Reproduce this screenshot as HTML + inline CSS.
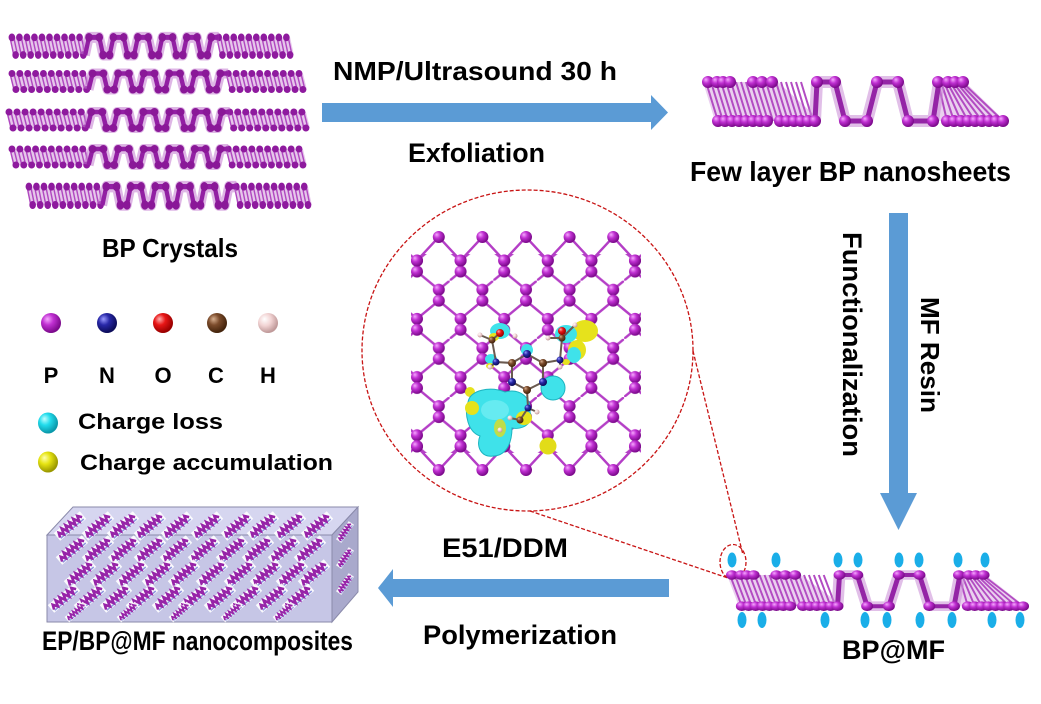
<!DOCTYPE html>
<html><head><meta charset="utf-8">
<style>
html,body{margin:0;padding:0;background:#fff;width:1041px;height:704px;overflow:hidden;}
svg{display:block;}
text{font-family:"Liberation Sans",Arial,sans-serif;font-weight:bold;fill:#000;}
</style></head><body>
<svg width="1041" height="704" viewBox="0 0 1041 704" xmlns="http://www.w3.org/2000/svg">
<defs>
<radialGradient id="gP" cx=".38" cy=".36" r=".62" fx=".32" fy=".3"><stop offset="0" stop-color="#f6a8ff"/><stop offset=".45" stop-color="#c030d2"/><stop offset="1" stop-color="#7c0a8c"/></radialGradient>
<radialGradient id="gN" cx=".38" cy=".36" r=".62" fx=".32" fy=".3"><stop offset="0" stop-color="#9a9aff"/><stop offset=".45" stop-color="#2828a8"/><stop offset="1" stop-color="#0c0c5a"/></radialGradient>
<radialGradient id="gO" cx=".38" cy=".36" r=".62" fx=".32" fy=".3"><stop offset="0" stop-color="#ffb0b0"/><stop offset=".45" stop-color="#e81616"/><stop offset="1" stop-color="#9a0000"/></radialGradient>
<radialGradient id="gC" cx=".38" cy=".36" r=".62" fx=".32" fy=".3"><stop offset="0" stop-color="#d8b090"/><stop offset=".45" stop-color="#7c4c2c"/><stop offset="1" stop-color="#44240c"/></radialGradient>
<radialGradient id="gH" cx=".38" cy=".36" r=".62" fx=".32" fy=".3"><stop offset="0" stop-color="#ffffff"/><stop offset=".5" stop-color="#f2d4d4"/><stop offset="1" stop-color="#c09a9a"/></radialGradient>
<radialGradient id="gCy" cx=".38" cy=".36" r=".62" fx=".32" fy=".3"><stop offset="0" stop-color="#c0ffff"/><stop offset=".45" stop-color="#22dcec"/><stop offset="1" stop-color="#0a98aa"/></radialGradient>
<radialGradient id="gY" cx=".38" cy=".36" r=".62" fx=".32" fy=".3"><stop offset="0" stop-color="#ffffb0"/><stop offset=".45" stop-color="#e6e412"/><stop offset="1" stop-color="#9a9800"/></radialGradient>

<circle id="p6" r="6" fill="url(#gP)"/>

<pattern id="lat" patternUnits="userSpaceOnUse" x="406.1" y="222.45" width="43.6" height="58.2">
<path d="M32.7 20.05L10.9 38.15M32.7 20.05L54.5 38.15M-10.9 20.05L10.9 38.15M10.9 49.15L32.7 67.25M10.9 49.15L-10.9 67.25M10.9 -9.05L32.7 9.05M54.5 -9.05L32.7 9.05M32.7 9.05V20.05M10.9 38.15V49.15" stroke="#b43ec6" stroke-width="2.4"/>
<use href="#p6" x="32.7" y="9.05"/><use href="#p6" x="32.7" y="20.05"/>
<use href="#p6" x="10.9" y="38.15"/><use href="#p6" x="10.9" y="49.15"/>
</pattern>

<g id="LS">
<polygon points="0,4 78,4 82,20 4,20" fill="#d6a2de" opacity=".6"/>
<path d="M0 4l4 16M4 4l4 16M8 4l4 16M12 4l4 16M16 4l4 16M20 4l4 16M24 4l4 16M28 4l4 16M32 4l4 16M36 4l4 16M40 4l4 16M44 4l4 16M48 4l4 16M52 4l4 16M56 4l4 16M60 4l4 16M64 4l4 16M68 4l4 16M72 4l4 16M76 4l4 16" stroke="#b048c0" stroke-width="1.5"/>
<path d="M2 4h0M10 4h0M18 4h0M26 4h0M34 4h0M42 4h0M50 4h0M58 4h0M66 4h0M74 4h0M6 20h0M14 20h0M22 20h0M30 20h0M38 20h0M46 20h0M54 20h0M62 20h0M70 20h0M78 20h0" stroke="#8e1a9e" stroke-width="7" stroke-linecap="round"/>
</g>
<g id="L">
<use href="#LS"/>
<use href="#LS" x="220"/>
<path d="M80 20L84 4H95L99 20H106L110 4H121L125 20H132L136 4H147L151 20H158L162 4H173L177 20H184L188 4H199L203 20H210L214 4H222" fill="none" stroke="#c27ad0" stroke-width="10" stroke-linejoin="round" opacity=".55"/>
<path d="M80 20L84 4H95L99 20H106L110 4H121L125 20H132L136 4H147L151 20H158L162 4H173L177 20H184L188 4H199L203 20H210L214 4H222" fill="none" stroke="#921fa3" stroke-width="4.5" stroke-linejoin="round"/>
<path d="M84 4h0M95 4h0M99 20h0M106 20h0M110 4h0M121 4h0M125 20h0M132 20h0M136 4h0M147 4h0M151 20h0M158 20h0M162 4h0M173 4h0M177 20h0M184 20h0M188 4h0M199 4h0M203 20h0M210 20h0M214 4h0" stroke="#8a1898" stroke-width="8" stroke-linecap="round"/>
</g>

<g id="S">
<polygon points="0,0 75,0 118,39 12,39" fill="#dcb0e4" opacity=".6"/>
<polygon points="233,0 262,0 302,39 232,39" fill="#dcb0e4" opacity=".6"/>
<path d="M3 0L15 39M8 0L20 39M13 0L25 39M18 0L30 39M23 0L35 39M28 0L40 39M33 0L45 39M38 0L50 39M43 0L55 39M48 0L60 39M53 0L65 39M58 0L70 39M63 0L75 39M68 0L80 39M73 0L85 39M78 0L90 39M83 0L95 39M88 0L100 39M93 0L105 39M98 0L110 39M235 0L244 39M238 0L251 39M241 0L258 39M244 0L265 39M247 0L272 39M250 0L279 39M253 0L286 39M256 0L293 39M259 0L300 39" stroke="#b24cc2" stroke-width="2"/>
<path d="M112 39L114 0H132L142 39H164L174 0H195L205 39H230L236 0" fill="none" stroke="#c98ad6" stroke-width="12" stroke-linejoin="round" opacity=".55"/>
<path d="M112 39L114 0H132L142 39H164L174 0H195L205 39H230L236 0" fill="none" stroke="#9424a6" stroke-width="5" stroke-linejoin="round"/>
<use href="#p6" x="5" y="0"/><use href="#p6" x="14" y="0"/><use href="#p6" x="20" y="0"/><use href="#p6" x="27" y="0"/>
<use href="#p6" x="50" y="0"/><use href="#p6" x="59" y="0"/><use href="#p6" x="69" y="0"/>
<use href="#p6" x="114" y="0"/><use href="#p6" x="132" y="0"/><use href="#p6" x="174" y="0"/><use href="#p6" x="195" y="0"/>
<use href="#p6" x="235" y="0"/><use href="#p6" x="245" y="0"/><use href="#p6" x="252" y="0"/><use href="#p6" x="260" y="0"/>
<use href="#p6" x="15" y="39"/><use href="#p6" x="22" y="39"/><use href="#p6" x="29" y="39"/><use href="#p6" x="36" y="39"/><use href="#p6" x="43" y="39"/><use href="#p6" x="50" y="39"/><use href="#p6" x="57" y="39"/><use href="#p6" x="64" y="39"/>
<use href="#p6" x="77" y="39"/><use href="#p6" x="84" y="39"/><use href="#p6" x="91" y="39"/><use href="#p6" x="98" y="39"/><use href="#p6" x="105" y="39"/><use href="#p6" x="112" y="39"/>
<use href="#p6" x="142" y="39"/><use href="#p6" x="164" y="39"/><use href="#p6" x="205" y="39"/><use href="#p6" x="230" y="39"/>
<use href="#p6" x="244" y="39"/><use href="#p6" x="251" y="39"/><use href="#p6" x="258" y="39"/><use href="#p6" x="265" y="39"/><use href="#p6" x="272" y="39"/><use href="#p6" x="279" y="39"/><use href="#p6" x="286" y="39"/><use href="#p6" x="293" y="39"/><use href="#p6" x="300" y="39"/>
</g>

<g id="m">
<rect x="-17" y="-5" width="34" height="10" fill="#fff" opacity=".9"/>
<path d="M-15 3.5H15" stroke="#6f78d6" stroke-width="1.6" opacity=".75"/>
<path d="M-15 2.5L-13 -2L-10 2.5L-8 -3.5L-5 2.5L-3 -3.5L0 2.5L2 -3.5L5 2.5L7 -3.5L10 2.5L12 -3L15 1" fill="none" stroke="#9724a8" stroke-width="2.6"/>
</g>
</defs>

<!-- BP crystals -->
<use href="#L" transform="translate(10,33) scale(0.94,1.1)"/>
<use href="#L" transform="translate(10,69.5) scale(0.983,1)"/>
<use href="#L" transform="translate(7,108) scale(1.003,1)"/>
<use href="#L" transform="translate(10,145) scale(0.983,1)"/>
<use href="#L" transform="translate(27,182) scale(0.943,1.15)"/>
<text x="102" y="257" font-size="26" textLength="136" lengthAdjust="spacingAndGlyphs">BP Crystals</text>

<!-- top arrow -->
<polygon points="322,103 651,103 651,95 668,112.5 651,130 651,122 322,122" fill="#5b9bd5"/>
<text x="333" y="80" font-size="26" textLength="284" lengthAdjust="spacingAndGlyphs">NMP/Ultrasound 30 h</text>
<text x="408" y="162" font-size="27" textLength="137" lengthAdjust="spacingAndGlyphs">Exfoliation</text>

<!-- few layer -->
<use href="#S" transform="translate(703,82)"/>
<text x="690" y="181" font-size="28" textLength="321" lengthAdjust="spacingAndGlyphs">Few layer BP nanosheets</text>

<!-- vertical arrow -->
<polygon points="889,213 908,213 908,493 917,493 898.5,530 880,493 889,493" fill="#5b9bd5"/>
<text transform="translate(843,232) rotate(90)" font-size="27" textLength="225" lengthAdjust="spacingAndGlyphs">Functionalization</text>
<text transform="translate(921,297) rotate(90)" font-size="26" textLength="116" lengthAdjust="spacingAndGlyphs">MF Resin</text>

<!-- legend -->
<circle cx="51" cy="323" r="10" fill="url(#gP)"/>
<circle cx="107" cy="323" r="10" fill="url(#gN)"/>
<circle cx="163" cy="323" r="10" fill="url(#gO)"/>
<circle cx="217" cy="323" r="10" fill="url(#gC)"/>
<circle cx="268" cy="323" r="10" fill="url(#gH)"/>
<g font-size="22" text-anchor="middle">
<text x="51" y="383">P</text><text x="107" y="383">N</text><text x="163" y="383">O</text><text x="216" y="383">C</text><text x="268" y="383">H</text>
</g>
<ellipse cx="48" cy="423" rx="10" ry="10.5" fill="url(#gCy)"/>
<text x="78" y="429" font-size="22" textLength="145" lengthAdjust="spacingAndGlyphs">Charge loss</text>
<ellipse cx="48" cy="462" rx="10" ry="10.5" fill="url(#gY)"/>
<text x="80" y="470" font-size="22" textLength="253" lengthAdjust="spacingAndGlyphs">Charge accumulation</text>

<!-- zoom circle lattice -->
<rect x="411" y="254" width="230" height="199" fill="url(#lat)"/>
<path d="M417 260.5L438.8 237L460.6 260.5L482.4 237L504.2 260.5L526 237L547.8 260.5L569.6 237L591.4 260.5L613.2 237L635 260.5M417 446.5L438.8 470L460.6 446.5L482.4 470L504.2 446.5L526 470L547.8 446.5L569.6 470L591.4 446.5L613.2 470L635 446.5" fill="none" stroke="#b43ec6" stroke-width="2.4"/>
<use href="#p6" x="417" y="260.5"/><use href="#p6" x="460.6" y="260.5"/><use href="#p6" x="504.2" y="260.5"/><use href="#p6" x="547.8" y="260.5"/><use href="#p6" x="591.4" y="260.5"/><use href="#p6" x="635" y="260.5"/>
<use href="#p6" x="417" y="446.5"/><use href="#p6" x="460.6" y="446.5"/><use href="#p6" x="504.2" y="446.5"/><use href="#p6" x="547.8" y="446.5"/><use href="#p6" x="591.4" y="446.5"/><use href="#p6" x="635" y="446.5"/>
<use href="#p6" x="438.8" y="237"/><use href="#p6" x="482.4" y="237"/><use href="#p6" x="526" y="237"/><use href="#p6" x="569.6" y="237"/><use href="#p6" x="613.2" y="237"/>
<use href="#p6" x="438.8" y="470"/><use href="#p6" x="482.4" y="470"/><use href="#p6" x="526" y="470"/><use href="#p6" x="569.6" y="470"/><use href="#p6" x="613.2" y="470"/>

<!-- charge clouds -->
<g>
<ellipse cx="585" cy="331" rx="13" ry="11" fill="#e6e21c"/>
<ellipse cx="577" cy="350" rx="9" ry="10" fill="#e6e21c"/>
<circle cx="548" cy="446" r="8.5" fill="#e2dc18"/>
<circle cx="470" cy="392" r="5" fill="#e6e21c"/>
<path d="M468 402C470 390 490 386 505 392C520 388 532 398 530 412C534 424 522 430 512 428C512 440 508 455 494 456C480 458 476 445 480 436C468 432 464 414 468 402Z" fill="#3fe2ea" stroke="#1cb4c0" stroke-width="1"/>
<ellipse cx="495" cy="410" rx="14" ry="10" fill="#70eef2" opacity=".8"/>
<circle cx="472" cy="408" r="7" fill="#e6e21c"/>
<ellipse cx="524" cy="418" rx="8" ry="7" fill="#e6e21c"/>
<ellipse cx="500" cy="428" rx="6" ry="9" fill="#e0dc20" opacity=".8"/>
<circle cx="553" cy="388" r="12" fill="#3fe2ea" stroke="#1cb4c0" stroke-width="1"/>
<circle cx="527" cy="350" r="6" fill="#3fe2ea"/>
<ellipse cx="500" cy="331" rx="10" ry="8" fill="#3fe2ea"/>
<ellipse cx="494" cy="337" rx="5" ry="4" fill="#e6e21c"/>
<ellipse cx="566" cy="334" rx="11" ry="9" fill="#3fe2ea"/>
<ellipse cx="574" cy="355" rx="7" ry="8" fill="#3fe2ea"/>
<ellipse cx="491" cy="359" rx="6" ry="5" fill="#3fe2ea"/>
<ellipse cx="490" cy="366" rx="4" ry="3" fill="#e6e21c"/>
<ellipse cx="566" cy="362" rx="4" ry="3" fill="#e6e21c"/>
</g>
<!-- molecule -->
<g stroke="#6a5a50" stroke-width="2" fill="none">
<path d="M527 354L543 363L543 382L527 390L512 382L512 363Z"/>
<path d="M512 363L496 362L492 340L500 333M492 340L480 335M543 363L560 360L562 338L575 325M562 338L548 338M527 390L528 408L520 420M528 408L537 412M520 420L510 418M496 362L490 367M560 360L560 367"/>
</g>
<g>
<circle cx="527" cy="354" r="4" fill="url(#gN)"/><circle cx="512" cy="382" r="4" fill="url(#gN)"/><circle cx="543" cy="382" r="4" fill="url(#gN)"/>
<circle cx="512" cy="363" r="4" fill="url(#gC)"/><circle cx="543" cy="363" r="4" fill="url(#gC)"/><circle cx="527" cy="390" r="4" fill="url(#gC)"/>
<circle cx="492" cy="340" r="3.5" fill="url(#gC)"/><circle cx="562" cy="338" r="3.5" fill="url(#gC)"/><circle cx="520" cy="420" r="3.5" fill="url(#gC)"/>
<circle cx="496" cy="362" r="3.5" fill="url(#gN)"/><circle cx="560" cy="360" r="3.5" fill="url(#gN)"/><circle cx="528" cy="408" r="3.5" fill="url(#gN)"/>
<circle cx="500" cy="333" r="4" fill="url(#gO)"/><circle cx="562" cy="331" r="4" fill="url(#gO)"/>
<circle cx="480" cy="335" r="2.5" fill="url(#gH)"/><circle cx="548" cy="338" r="2.5" fill="url(#gH)"/><circle cx="575" cy="325" r="2.5" fill="url(#gH)"/>
<circle cx="490" cy="367" r="2.5" fill="url(#gH)"/><circle cx="560" cy="367" r="2.5" fill="url(#gH)"/><circle cx="510" cy="418" r="2.5" fill="url(#gH)"/>
<circle cx="537" cy="412" r="2.5" fill="url(#gH)"/><circle cx="500" cy="430" r="2.5" fill="url(#gH)"/><circle cx="515" cy="336" r="2.5" fill="url(#gH)"/>
</g>

<!-- dashed zoom -->
<g fill="none" stroke="#c81414" stroke-width="1.3" stroke-dasharray="4 2">
<ellipse cx="527.5" cy="350.5" rx="165.5" ry="160.5"/>
<path d="M530 511L728 578"/>
<path d="M693 351L743 555"/>
<ellipse cx="733" cy="562" rx="13" ry="17.5"/>
</g>

<!-- BP@MF -->
<g fill="#1aaee8">
<ellipse cx="732" cy="560" rx="4.5" ry="7.5"/><ellipse cx="776" cy="560" rx="4.5" ry="7.5"/><ellipse cx="838" cy="560" rx="4.5" ry="7.5"/><ellipse cx="858" cy="560" rx="4.5" ry="7.5"/>
<ellipse cx="899" cy="560" rx="4.5" ry="7.5"/><ellipse cx="919" cy="560" rx="4.5" ry="7.5"/><ellipse cx="958" cy="560" rx="4.5" ry="7.5"/><ellipse cx="985" cy="560" rx="4.5" ry="7.5"/>
<ellipse cx="742" cy="620" rx="4.5" ry="8"/><ellipse cx="762" cy="620" rx="4.5" ry="8"/><ellipse cx="825" cy="620" rx="4.5" ry="8"/><ellipse cx="865" cy="620" rx="4.5" ry="8"/>
<ellipse cx="887" cy="620" rx="4.5" ry="8"/><ellipse cx="920" cy="620" rx="4.5" ry="8"/><ellipse cx="952" cy="620" rx="4.5" ry="8"/><ellipse cx="992" cy="620" rx="4.5" ry="8"/><ellipse cx="1020" cy="620" rx="4.5" ry="8"/>
</g>
<use href="#S" transform="translate(727,575) scale(0.987,0.8)"/>
<text x="842" y="659" font-size="27" textLength="103" lengthAdjust="spacingAndGlyphs">BP@MF</text>

<!-- bottom arrow -->
<polygon points="669,579 393,579 393,569 378,588 393,607 393,597 669,597" fill="#5b9bd5"/>
<text x="442" y="557" font-size="27" textLength="126" lengthAdjust="spacingAndGlyphs">E51/DDM</text>
<text x="423" y="644" font-size="27" textLength="194" lengthAdjust="spacingAndGlyphs">Polymerization</text>

<!-- composite box -->
<polygon points="47,535 332,535 332,622 47,622" fill="#c6c6e6" stroke="#8a8aaa" stroke-width="1"/>
<polygon points="47,535 73,507 358,507 332,535" fill="#d6d6f0" stroke="#8a8aaa" stroke-width="1"/>
<polygon points="332,535 358,507 358,592 332,622" fill="#a9a9cc" stroke="#8a8aaa" stroke-width="1"/>
<g>
<use href="#m" transform="translate(70,526) rotate(-40)"/><use href="#m" transform="translate(98,526) rotate(-40)"/><use href="#m" transform="translate(123,526) rotate(-40)"/><use href="#m" transform="translate(150,526) rotate(-40)"/><use href="#m" transform="translate(177,526) rotate(-40)"/><use href="#m" transform="translate(207,526) rotate(-40)"/><use href="#m" transform="translate(237,526) rotate(-40)"/><use href="#m" transform="translate(263,526) rotate(-40)"/><use href="#m" transform="translate(290,526) rotate(-40)"/><use href="#m" transform="translate(317,526) rotate(-40)"/>
<use href="#m" transform="translate(72,550) rotate(-40)"/><use href="#m" transform="translate(98,550) rotate(-40)"/><use href="#m" transform="translate(124,550) rotate(-40)"/><use href="#m" transform="translate(150,550) rotate(-40)"/><use href="#m" transform="translate(176,550) rotate(-40)"/><use href="#m" transform="translate(204,550) rotate(-40)"/><use href="#m" transform="translate(232,550) rotate(-40)"/><use href="#m" transform="translate(258,550) rotate(-40)"/><use href="#m" transform="translate(284,550) rotate(-40)"/><use href="#m" transform="translate(310,550) rotate(-40)"/>
<use href="#m" transform="translate(80,574) rotate(-40)"/><use href="#m" transform="translate(106,574) rotate(-40)"/><use href="#m" transform="translate(132,574) rotate(-40)"/><use href="#m" transform="translate(158,574) rotate(-40)"/><use href="#m" transform="translate(184,574) rotate(-40)"/><use href="#m" transform="translate(212,574) rotate(-40)"/><use href="#m" transform="translate(240,574) rotate(-40)"/><use href="#m" transform="translate(266,574) rotate(-40)"/><use href="#m" transform="translate(292,574) rotate(-40)"/><use href="#m" transform="translate(314,574) rotate(-40)"/>
<use href="#m" transform="translate(64,598) rotate(-40)"/><use href="#m" transform="translate(90,598) rotate(-40)"/><use href="#m" transform="translate(116,598) rotate(-40)"/><use href="#m" transform="translate(142,598) rotate(-40)"/><use href="#m" transform="translate(168,598) rotate(-40)"/><use href="#m" transform="translate(194,598) rotate(-40)"/><use href="#m" transform="translate(220,598) rotate(-40)"/><use href="#m" transform="translate(246,598) rotate(-40)"/><use href="#m" transform="translate(272,598) rotate(-40)"/><use href="#m" transform="translate(298,598) rotate(-40)"/>
<use href="#m" transform="translate(76,612) rotate(-40) scale(.7)"/><use href="#m" transform="translate(128,612) rotate(-40) scale(.7)"/><use href="#m" transform="translate(180,612) rotate(-40) scale(.7)"/><use href="#m" transform="translate(232,612) rotate(-40) scale(.7)"/><use href="#m" transform="translate(284,612) rotate(-40) scale(.7)"/>
<use href="#m" transform="translate(345,532) rotate(-55) scale(.65)"/><use href="#m" transform="translate(345,558) rotate(-55) scale(.65)"/><use href="#m" transform="translate(345,584) rotate(-55) scale(.65)"/>
</g>
<text x="42" y="650" font-size="27" textLength="311" lengthAdjust="spacingAndGlyphs">EP/BP@MF nanocomposites</text>
</svg>
</body></html>
